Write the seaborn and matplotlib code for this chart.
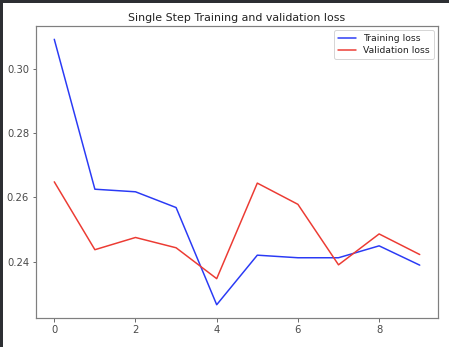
import matplotlib
matplotlib.use("Agg")
import matplotlib.pyplot as plt
import seaborn as sns
import pandas as pd
from matplotlib.patches import Rectangle

epochs = list(range(10))
training_loss = [0.3091, 0.2625, 0.2617, 0.2568, 0.2266, 0.2420, 0.2412, 0.2412, 0.2449, 0.2389]
validation_loss = [0.2648, 0.2437, 0.2475, 0.2443, 0.2347, 0.2644, 0.2578, 0.2390, 0.2486, 0.2422]

sns.set_style("ticks", {"axes.edgecolor": "#7f7f7f", "xtick.color": "#4a4a4a",
                        "ytick.color": "#4a4a4a", "text.color": "#222222",
                        "axes.labelcolor": "#222222"})
plt.rcParams["font.family"] = ["DejaVu Sans"]
plt.rcParams["font.size"] = 10

df = pd.DataFrame({"epoch": epochs + epochs,
                   "loss": training_loss + validation_loss,
                   "kind": ["Training loss"] * 10 + ["Validation loss"] * 10})

fig = plt.figure(figsize=(449 / 72, 347 / 72), dpi=72)
ax = fig.add_axes([36 / 449, 1 - 318 / 347, (438 - 36) / 449, (318 - 26) / 347])

sns.lineplot(data=df, x="epoch", y="loss", hue="kind",
             palette={"Training loss": "#2a3af5", "Validation loss": "#ec3b33"},
             linewidth=1.5, ax=ax)

ax.set_title("Single Step Training and validation loss", fontsize=11, pad=5)
ax.set_xlabel("")
ax.set_ylabel("")
ax.set_xticks([0, 2, 4, 6, 8])
ax.set_yticks([0.24, 0.26, 0.28, 0.30])
ax.set_yticklabels(["0.24", "0.26", "0.28", "0.30"])
for s in ax.spines.values():
    s.set_visible(True)
    s.set_linewidth(1.2)
ax.tick_params(labelsize=10, length=3.5)
leg = ax.legend(loc="upper right", fontsize=9.2, frameon=True,
                handlelength=2.0, borderaxespad=0.45, labelspacing=0.35)
leg.get_frame().set_edgecolor("#cccccc")

# dark page edges
fig.patches.append(Rectangle((0, 0), 2 / 449, 1, transform=fig.transFigure,
                             color="#2d2f33", zorder=10))
fig.patches.append(Rectangle((0, 1 - 1.5 / 347), 1, 1.5 / 347, transform=fig.transFigure,
                             color="#2d2f33", zorder=10))

fig.savefig("out.png", dpi=72)
